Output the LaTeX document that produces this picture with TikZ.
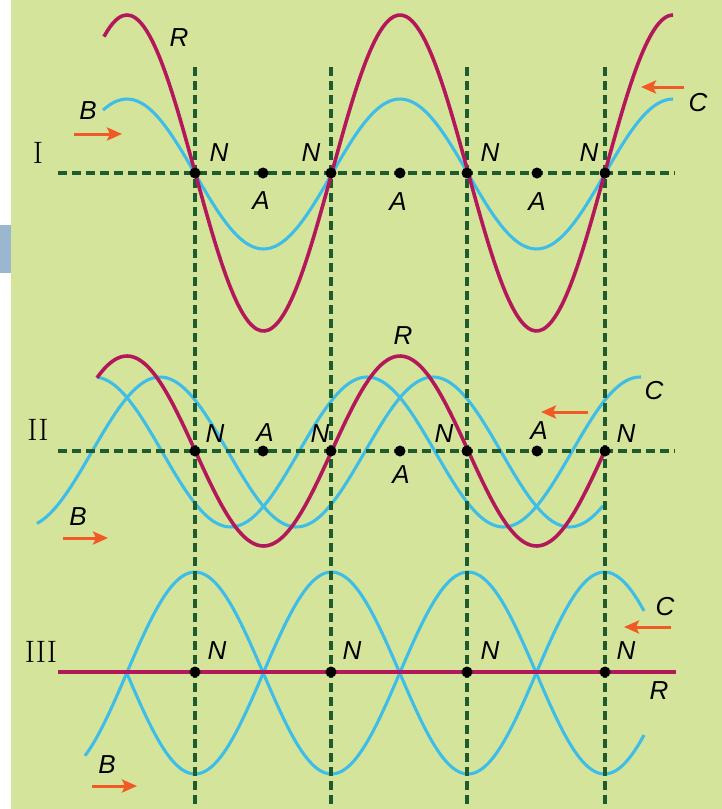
\documentclass[tikz,border=0pt]{standalone}
\usepackage{fontspec}
\newfontfamily\labfont{Liberation Sans}
\usetikzlibrary{arrows.meta}
\definecolor{bggreen}{HTML}{D5E49B}
\definecolor{sidebox}{HTML}{9BB6CF}
\definecolor{wavered}{HTML}{B3185A}
\definecolor{wavecyan}{HTML}{3EBDE8}
\definecolor{dashgreen}{HTML}{1E5B2E}
\definecolor{arroworange}{HTML}{F15A24}
\begin{document}
\begin{tikzpicture}[x=1pt,y=-1pt,
  lab/.style={font=\labfont\itshape\fontsize{26}{26}\selectfont, inner sep=0pt},
  roman/.style={font=\fontsize{31}{31}\selectfont, inner sep=0pt},
  redwave/.style={draw=wavered, line width=3.6pt},
  cyanwave/.style={draw=wavecyan, line width=3.1pt},
  gdash/.style={draw=dashgreen, line width=3.4pt, dash pattern=on 9pt off 5pt},
  dotnode/.style={circle, fill=black, inner sep=0pt, minimum size=11pt},
  movearrow/.style={draw=arroworange, line width=3pt, -{Stealth[length=15pt,width=13pt,inset=3pt]}}
]
\useasboundingbox (0,0) rectangle (722,809);
\fill[white] (0,0) rectangle (722,809);
\fill[bggreen] (11,0) rectangle (722,809);
\fill[sidebox] (0,225) rectangle (11,273);

% ---------- cyan waves ----------
% Row I
\draw[cyanwave] plot[domain=103:673, samples=150, smooth] (\x, {174-75*cos((\x-127)/273*360)});
% Row II
\draw[cyanwave] plot[domain=37:603, samples=150, smooth] (\x, {452-75*cos((\x-160)/273*360)});
\draw[cyanwave] plot[domain=97:641, samples=150, smooth] (\x, {452-75*cos((\x-94)/273*360)});
% Row III
\draw[cyanwave] plot[domain=85:644, samples=150, smooth] (\x, {673-101*cos((\x-195)/273*360)});
\draw[cyanwave] plot[domain=126.75:644, samples=150, smooth] (\x, {673+101*cos((\x-195)/273*360)});

% ---------- dashed guide lines ----------
\foreach \xx [count=\i] in {195,331,467,605} {
  \coordinate (vt\i) at (\xx,67);
  \coordinate (vb\i) at (\xx,809);
  \draw[gdash] (vt\i) -- (vb\i);
}
\coordinate (h1l) at (58,173); \coordinate (h1r) at (675,173);
\coordinate (h2l) at (58,451); \coordinate (h2r) at (675,451);
\draw[gdash] (h1l) -- (h1r);
\draw[gdash] (h2l) -- (h2r);

% ---------- red waves ----------
\draw[redwave] plot[domain=104:673, samples=150, smooth] (\x, {173-158*cos((\x-127)/273*360)});
\draw[redwave] plot[domain=97:605, samples=150, smooth] (\x, {451-95*cos((\x-127)/273*360)});
\coordinate (r3l) at (58,672); \coordinate (r3r) at (676,672);
\draw[redwave] (r3l) -- (r3r);

% ---------- dots ----------
\foreach \xx [count=\i] in {195,331,467,605} {
  \node[dotnode] (nI\i) at (\xx,173) {};
  \node[dotnode] (nII\i) at (\xx,451) {};
  \node[dotnode] (nIII\i) at (\xx,672) {};
}
\foreach \xx [count=\i] in {263,400,537} {
  \node[dotnode] (aI\i) at (\xx,173) {};
  \node[dotnode] (aII\i) at (\xx,451) {};
}

% ---------- Row I labels ----------
\node[roman] (romI) at (38,153) {I};
\node[lab] (lRI) at (179,38) {R};
\node[lab] (lBI) at (88,111) {B};
\node[lab] (lCI) at (698,103) {C};
\node[lab] (lNI1) at (219,153) {N};
\node[lab] (lNI2) at (311,153) {N};
\node[lab] (lNI3) at (490,153) {N};
\node[lab] (lNI4) at (589,153) {N};
\node[lab] (lAI1) at (261,201) {A};
\node[lab] (lAI2) at (398,202) {A};
\node[lab] (lAI3) at (537,202) {A};
\coordinate (bIt) at (74,134); \coordinate (bIh) at (122,134);
\draw[movearrow] (bIt) -- (bIh);
\coordinate (cIt) at (684,87); \coordinate (cIh) at (641,87);
\draw[movearrow] (cIt) -- (cIh);

% ---------- Row II labels ----------
\node[roman] (romII) at (38,430) {II};
\node[lab] (lRII) at (403,336) {R};
\node[lab] (lBII) at (78,517) {B};
\node[lab] (lCII) at (654,391) {C};
\node[lab] (lNII1) at (215,434) {N};
\node[lab] (lNII2) at (320,434) {N};
\node[lab] (lNII3) at (444,434) {N};
\node[lab] (lNII4) at (626,434) {N};
\node[lab] (lAII1) at (265,433) {A};
\node[lab] (lAII2) at (401,475) {A};
\node[lab] (lAII3) at (539,431) {A};
\coordinate (bIIt) at (63,538); \coordinate (bIIh) at (108,538);
\draw[movearrow] (bIIt) -- (bIIh);
\coordinate (cIIt) at (588,412); \coordinate (cIIh) at (541,412);
\draw[movearrow] (cIIt) -- (cIIh);

% ---------- Row III labels ----------
\node[roman] (romIII) at (41,652) {III};
\node[lab] (lRIII) at (659,691) {R};
\node[lab] (lBIII) at (107,765) {B};
\node[lab] (lCIII) at (665,607) {C};
\node[lab] (lNIII1) at (217,651) {N};
\node[lab] (lNIII2) at (352,651) {N};
\node[lab] (lNIII3) at (490,651) {N};
\node[lab] (lNIII4) at (626,651) {N};
\coordinate (bIIIt) at (92,786); \coordinate (bIIIh) at (137,786);
\draw[movearrow] (bIIIt) -- (bIIIh);
\coordinate (cIIIt) at (671,627); \coordinate (cIIIh) at (624,627);
\draw[movearrow] (cIIIt) -- (cIIIh);
\end{tikzpicture}
\end{document}
